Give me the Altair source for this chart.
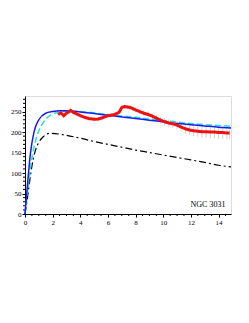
import altair as alt
import pandas as pd

# Observed rotation curve (red) with error bars
obs_r = [2.4, 2.6, 2.8, 3.0, 3.2, 3.3, 3.5, 3.7, 4.0, 4.3, 4.6, 5.0, 5.3, 5.6, 5.9, 6.2, 6.5, 6.8,
         7.0, 7.2, 7.4, 7.6, 7.8, 8.0, 8.3, 8.6, 8.9, 9.2, 9.5, 9.8, 10.1, 10.4, 10.7, 11.0, 11.3,
         11.6, 11.9, 12.2, 12.5, 12.8, 13.1, 13.4, 13.7, 14.0, 14.3, 14.6, 14.8]
obs_v = [243, 247, 240, 246, 250, 253, 248, 245, 240, 236, 233, 231, 232, 235, 239, 241, 243, 248,
         260, 262, 261, 260, 257, 254, 250, 246, 243, 239, 234, 229, 225, 222, 220, 217, 212,
         208, 205, 203, 202, 201, 201, 200, 200, 199, 199, 198, 198]
obs_e = [5, 5, 5, 5, 5, 5, 5, 5, 5, 5, 5, 5, 5, 5, 5, 5, 5, 5,
         5, 5, 5, 6, 6, 6, 6, 7, 7, 7, 8, 8, 9, 9, 10, 10, 11,
         12, 12, 13, 13, 14, 14, 15, 15, 16, 16, 16, 16]

# Model curves
blue_r = [0, 0.2, 0.4, 0.65, 1.0, 1.5, 2.0, 2.5, 3.0, 4, 5, 6, 7, 8, 9, 10, 11, 12, 13, 14, 14.9]
blue_v = [0, 80, 150, 200, 230, 246, 250, 252, 252, 249, 245, 241, 237, 233, 229, 225, 221, 218, 215, 212, 210]

cyan_r = [0, 0.2, 0.4, 0.6, 0.8, 1.0, 1.3, 1.6, 2.0, 2.5, 3.0, 4, 6, 8, 10, 12, 14, 14.9]
cyan_v = [0, 60, 115, 155, 183, 203, 222, 235, 244, 249, 251, 250, 243, 236, 228, 221, 216, 214]

black_r = [0, 0.2, 0.4, 0.6, 0.8, 1.0, 1.3, 1.8, 2.5, 3, 4, 5, 6, 7, 8, 9, 10, 11, 12, 13, 14, 14.9]
black_v = [0, 45, 95, 135, 160, 175, 188, 197, 195, 192, 185, 177, 170, 163, 156, 150, 144, 138, 132, 126, 119, 115]

x_major = [0, 2, 4, 6, 8, 10, 12, 14]
y_major = [0, 50, 100, 150, 200, 250]
x_minor = [0.5, 1, 1.5, 2.5, 3, 3.5, 4.5, 5, 5.5, 6.5, 7, 7.5, 8.5, 9, 9.5,
           10.5, 11, 11.5, 12.5, 13, 13.5, 14.5]
y_minor = [10, 20, 30, 40, 60, 70, 80, 90, 110, 120, 130, 140, 160, 170, 180, 190,
           210, 220, 230, 240, 260, 270, 280]

label = "NGC 3031"

obs = pd.DataFrame({"r": obs_r, "v": obs_v, "lo": [v - e for v, e in zip(obs_v, obs_e)],
                    "hi": [v + e for v, e in zip(obs_v, obs_e)]})
blue = pd.DataFrame({"r": blue_r, "v": blue_v})
cyan = pd.DataFrame({"r": cyan_r, "v": cyan_v})
black = pd.DataFrame({"r": black_r, "v": black_v})

FONT = "Liberation Serif"
W, H = 206, 118
xscale = alt.Scale(domain=[0, 14.9], nice=False, zero=False)
yscale = alt.Scale(domain=[0, 288], nice=False)

common = dict(grid=False, title=None, labelFont=FONT, labelFontSize=7, labelColor="black",
              domainColor="black", tickColor="black", labelPadding=1, labelFlush=False,
              labelOverlap=False, tickSize=3)
xaxis = alt.Axis(values=x_major, **common)
yaxis = alt.Axis(values=y_major, **common)

def X(f):
    return alt.X(f, scale=xscale, axis=xaxis)

def Y(f):
    return alt.Y(f, scale=yscale, axis=yaxis)

xm = alt.Chart(pd.DataFrame({"r": x_minor})).mark_rule(color="black", strokeWidth=1).encode(
    x=X("r:Q"), y=alt.value(H), y2=alt.value(H + 2))
ym = alt.Chart(pd.DataFrame({"v": y_minor})).mark_rule(color="black", strokeWidth=1).encode(
    y=Y("v:Q"), x=alt.value(0), x2=alt.value(-2))

err = alt.Chart(obs).mark_rule(color="#d0d0d0", strokeWidth=1).encode(
    x=X("r:Q"), y=Y("lo:Q"), y2="hi:Q")
red = alt.Chart(obs).mark_line(color="#ee1111", strokeWidth=3).encode(x=X("r:Q"), y=Y("v:Q"))
bk = alt.Chart(black).mark_line(color="black", strokeWidth=1.2, strokeDash=[7, 3, 2, 3],
                                interpolate="monotone").encode(x=X("r:Q"), y=Y("v:Q"))
cy = alt.Chart(cyan).mark_line(color="#22dddd", strokeWidth=1.5, strokeDash=[6, 3],
                               interpolate="monotone").encode(x=X("r:Q"), y=Y("v:Q"))
bl = alt.Chart(blue).mark_line(color="#1a1aee", strokeWidth=1.5,
                               interpolate="monotone").encode(x=X("r:Q"), y=Y("v:Q"))
txt = alt.Chart(pd.DataFrame({"t": [label]})).mark_text(
    font=FONT, fontSize=8, color="black", align="center", baseline="middle").encode(
    text="t:N", x=alt.value(183), y=alt.value(109))

chart = alt.layer(xm, ym, err, bk, cy, bl, red, txt).properties(
    width=W, height=H,
    autosize=alt.AutoSizeParams(type="none"),
    padding={"left": 17, "top": 88, "right": 10, "bottom": 93},
).configure_view(stroke="#888888", strokeWidth=1).configure(background="white")

chart.save("out.html", embed_options={"renderer": "svg", "actions": False})
